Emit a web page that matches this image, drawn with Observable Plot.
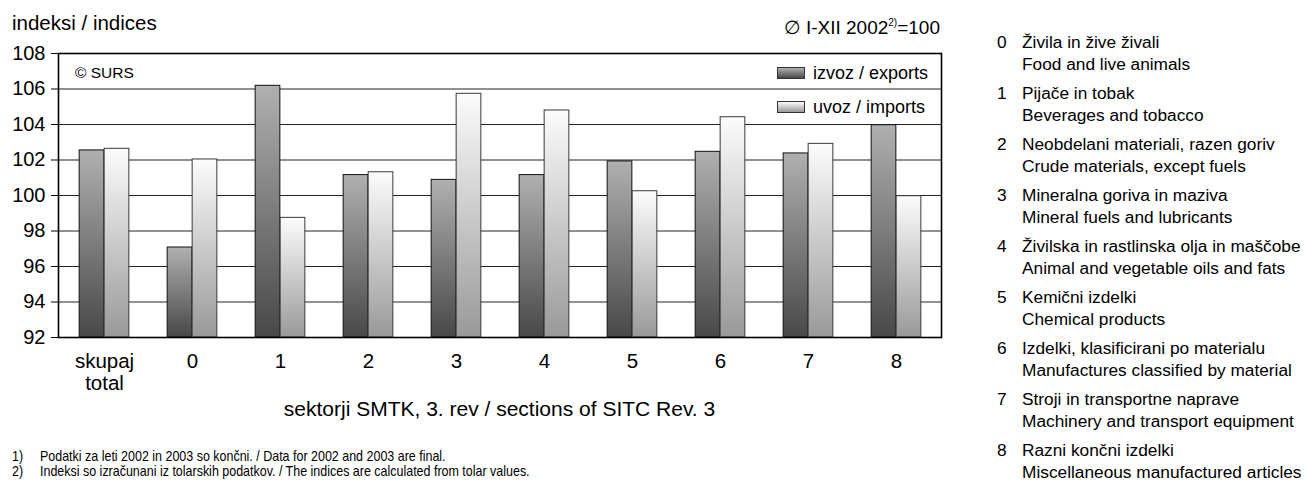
<!DOCTYPE html>
<html>
<head>
<meta charset="utf-8">
<script src="https://cdn.jsdelivr.net/npm/d3@7"></script>
<script src="https://cdn.jsdelivr.net/npm/@observablehq/plot@0.6"></script>
<style>
  html, body { margin: 0; padding: 0; background: #fff; }
  #page { position: relative; width: 1305px; height: 488px; overflow: hidden; font-family: "Liberation Sans", Arial, sans-serif; color: #000; }
  .abs { position: absolute; white-space: nowrap; }
  #chart { position: absolute; left: 0; top: 0; }
  .lg-box { position: absolute; width: 28px; height: 12px; border: 1px solid #333; box-sizing: border-box; }
  .note { font-family: "Liberation Sans Narrow", "Arial Narrow", "Liberation Sans", sans-serif; font-size: 14.5px; line-height: 15px; transform: scaleX(0.86); transform-origin: 0 0; }
  #list { position: absolute; left: 997px; top: 31px; font-size: 17.3px; line-height: 22px; }
  #list .entry { position: relative; height: 44px; margin-bottom: 7px; }
  #list .num { position: absolute; left: 0; top: 0; }
  #list .txt { position: absolute; left: 25px; top: 0; white-space: nowrap; }
</style>
</head>
<body>
<div id="page">
  <div id="chart"></div>
</div>
<script>
// ---- data ----
const categories = ["skupaj\ntotal", "0", "1", "2", "3", "4", "5", "6", "7", "8"];
const exportsIdx = [102.54, 97.07, 106.18, 101.15, 100.88, 101.15, 101.92, 102.46, 102.37, 103.96];
const importsIdx = [102.63, 102.03, 98.74, 101.31, 105.73, 104.79, 100.24, 104.41, 102.91, 99.96];
const yDomain = [92, 108];
const yTicks = [92, 94, 96, 98, 100, 102, 104, 106, 108];
const gridTicks = [94, 96, 98, 100, 102, 104, 106];
const seriesNames = ["izvoz / exports", "uvoz / imports"];
const sectionCodes = ["0", "1", "2", "3", "4", "5", "6", "7", "8"];
const sectionSl = ["Živila in žive živali", "Pijače in tobak", "Neobdelani materiali, razen goriv", "Mineralna goriva in maziva", "Živilska in rastlinska olja in maščobe", "Kemični izdelki", "Izdelki, klasificirani po materialu", "Stroji in transportne naprave", "Razni končni izdelki"];
const sectionEn = ["Food and live animals", "Beverages and tobacco", "Crude materials, except fuels", "Mineral fuels and lubricants", "Animal and vegetable oils and fats", "Chemical products", "Manufactures classified by material", "Machinery and transport equipment", "Miscellaneous manufactured articles"];
const titleText = "indeksi / indices";
const baseText = "∅ I-XII 2002";
const xTitle = "sektorji SMTK, 3. rev / sections of SITC Rev. 3";
const footnotes = [["1)", "Podatki za leti 2002 in 2003 so končni. / Data for 2002 and 2003 are final."], ["2)", "Indeksi so izračunani iz tolarskih podatkov. / The indices are calculated from tolar values."]];

const rows = categories.map((c, i) => ({cat: c, exp: exportsIdx[i], imp: importsIdx[i]}));

const W = 960, H = 430;
const mL = 58, mR = 19, mT = 53, mB = 93;
const step = (W - mL - mR) / categories.length;
const barW = 25;
const outer = (step - 2 * barW) / 2;

const plot = Plot.plot({
  width: W, height: H,
  marginLeft: mL, marginRight: mR, marginTop: mT, marginBottom: mB,
  style: {fontFamily: "Liberation Sans, Arial, sans-serif", fontSize: "20px", color: "#000", background: "transparent"},
  x: {type: "band", domain: categories, paddingInner: 0, paddingOuter: 0, label: null},
  y: {domain: yDomain, label: null},
  marks: [
    Plot.ruleY(gridTicks, {stroke: "#222", strokeWidth: 1}),
    Plot.barY(rows, {x: "cat", y1: yDomain[0], y2: "exp", fill: "url(#gExp)", stroke: "#111", strokeWidth: 1, insetLeft: outer, insetRight: outer + barW}),
    Plot.barY(rows, {x: "cat", y1: yDomain[0], y2: "imp", fill: "url(#gImp)", stroke: "#3a3a3a", strokeWidth: 1, insetLeft: outer + barW, insetRight: outer}),
    Plot.frame({stroke: "#000", strokeWidth: 1.6}),
    Plot.axisY({ticks: yTicks, tickSize: 7, tickPadding: 6, tickFormat: d => String(d), fontSize: 20, label: null, stroke: "#000"}),
    Plot.axisX({tickSize: 0, tickPadding: 15, fontSize: 20.5, lineHeight: 1.08, label: null})
  ]
});

const svg = d3.select(plot);
svg.insert("defs", ":first-child").html(`
  <linearGradient id="gExp" x1="0" y1="0" x2="0" y2="1">
    <stop offset="0" stop-color="#b0b0b0"/>
    <stop offset="1" stop-color="#484848"/>
  </linearGradient>
  <linearGradient id="gImp" x1="0" y1="0" x2="0" y2="1">
    <stop offset="0" stop-color="#fcfcfc"/>
    <stop offset="1" stop-color="#999999"/>
  </linearGradient>`);
document.getElementById("chart").appendChild(plot);

const page = document.getElementById("page");
function addDiv(html, style, cls) {
  const d = document.createElement("div");
  d.className = "abs" + (cls ? " " + cls : "");
  d.innerHTML = html;
  Object.assign(d.style, style);
  page.appendChild(d);
  return d;
}
// title & base
addDiv(titleText, {left: "12px", top: "13px", fontSize: "20.5px", lineHeight: "20px"});
addDiv(baseText + '<sup style="font-size:10px;vertical-align:8px">2)</sup>=100', {right: "365px", top: "13px", fontSize: "19px", lineHeight: "19px"});
// copyright
addDiv("© SURS", {left: "75px", top: "65px", fontSize: "15.5px", lineHeight: "15px"});
// legend inside plot
const legTops = [67, 101];
const grads = ["linear-gradient(#b0b0b0, #484848)", "linear-gradient(#fcfcfc, #999999)"];
seriesNames.forEach((s, i) => {
  const b = document.createElement("div");
  b.className = "lg-box";
  Object.assign(b.style, {left: "777px", top: legTops[i] + "px", background: grads[i]});
  page.appendChild(b);
  addDiv(s, {left: "813px", top: (legTops[i] - 3) + "px", fontSize: "18px", lineHeight: "18px"});
});
// x title
addDiv(xTitle, {left: "0px", width: "999px", textAlign: "center", top: "398px", fontSize: "21px", lineHeight: "21px"});
// footnotes
footnotes.forEach((f, i) => {
  addDiv(f[0], {left: "12px", top: (449 + i * 14.5) + "px"}, "note");
  addDiv(f[1], {left: "40px", top: (449 + i * 14.5) + "px"}, "note");
});
// right list
const list = document.createElement("div");
list.id = "list";
sectionCodes.forEach((c, i) => {
  const e = document.createElement("div");
  e.className = "entry";
  e.innerHTML = `<div class="num">${c}</div><div class="txt">${sectionSl[i]}<br>${sectionEn[i]}</div>`;
  list.appendChild(e);
});
page.appendChild(list);
</script>
</body>
</html>
